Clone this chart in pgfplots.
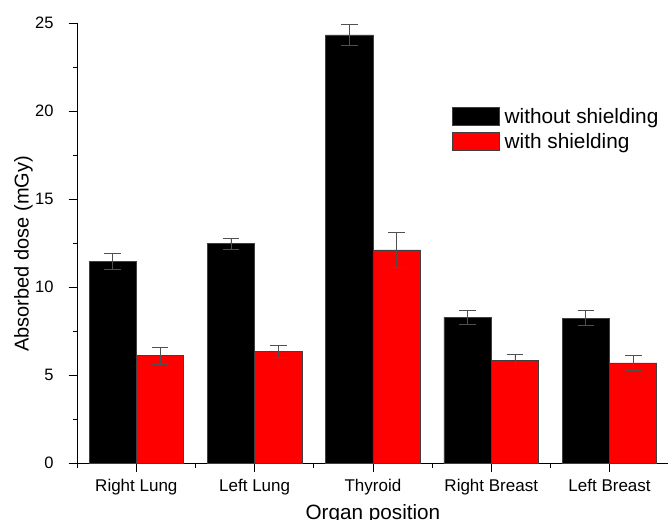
\documentclass[border=0pt]{standalone}
\usepackage{pgfplots}
\pgfplotsset{compat=1.18}
\usepackage{fontspec}
\setmainfont{Liberation Sans}
\definecolor{edge}{HTML}{404040}
\definecolor{errc}{HTML}{505050}
\pgfplotsset{
  myerr/.style={
    error bars/y dir=both, error bars/y explicit,
    error bars/error mark options={rotate=90, mark size=8.3pt, draw=errc, line width=0.8pt},
    error bars/error bar style={draw=errc, line width=0.8pt},
  }
}
\begin{document}
\begin{tikzpicture}
\useasboundingbox (-77.2pt,-55.7pt) rectangle (590.8pt,463.3pt);
\begin{axis}[
  scale only axis,
  width=591.5pt, height=440pt,
  xmin=-0.5, xmax=4.5, ymin=0, ymax=25,
  axis x line=bottom, axis y line=left,
  axis line style={-, line width=0.9pt, black},
  tick align=outside,
  xtick={0,1,2,3,4},
  xticklabels={Right Lung,Left Lung,Thyroid,Right Breast,Left Breast},
  minor xtick={-0.5,0.5,1.5,2.5,3.5,4.5},
  ytick={0,5,10,15,20,25},
  minor ytick={2.5,7.5,12.5,17.5,22.5},
  major tick length=8.5pt, minor tick length=4.5pt,
  tick style={line width=0.9pt, black},
  /pgf/number format/assume math mode=true,
  yticklabel style={font=\fontsize{16.5}{18}\selectfont, inner sep=0pt, anchor=east, xshift=-15pt},
  xticklabel style={font=\fontsize{17}{19}\selectfont, inner sep=0pt, anchor=base, yshift=-19.5pt},
  xlabel={Organ position},
  ylabel={Absorbed dose (mGy)},
  xlabel style={font=\fontsize{20.7}{22}\selectfont, inner sep=0pt, at={(axis description cs:0.5,0)}, anchor=base, yshift=-56pt},
  ylabel style={font=\fontsize{20}{22}\selectfont, inner sep=0pt, at={(axis description cs:0,0.476)}, anchor=center, yshift=53.7pt},
  ybar, bar width=0.4,
  legend style={at={(axis description cs:0.633,0.8105)}, anchor=north west, draw=none, fill=none, inner sep=0pt, row sep=6.3pt, column sep=5pt, font=\fontsize{20.8}{22}\selectfont, nodes={inner sep=0pt}},
  legend cell align=left,
  legend image code/.code={\draw[#1, draw=edge, line width=0.8pt] (0pt,-8.5pt) rectangle (47pt,9.5pt);},
]
\addplot[fill=black, draw=edge, line width=0.8pt, bar shift=-0.2, myerr] coordinates {
  (0,11.45) +- (0,0.46)
  (1,12.48) +- (0,0.32)
  (2,24.34) +- (0,0.57)
  (3,8.27) +- (0,0.40)
  (4,8.24) +- (0,0.43)
};
\addlegendentry{without shielding}
\addplot[fill=red, draw=edge, line width=0.8pt, bar shift=0.2, myerr] coordinates {
  (0,6.11) +- (0,0.50)
  (1,6.36) +- (0,0.35)
  (2,12.12) +- (0,0.98)
  (3,5.83) +- (0,0.38)
  (4,5.70) +- (0,0.41)
};
\addlegendentry{with shielding}
\end{axis}
\end{tikzpicture}
\end{document}
